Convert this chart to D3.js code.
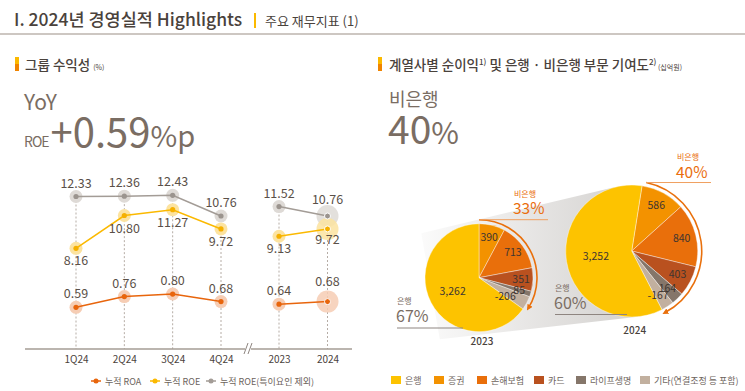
<!DOCTYPE html>
<meta charset="utf-8">
<script src="https://d3js.org/d3.v7.min.js"></script>
<style>
  body { margin: 0; background: #fff; }
  svg { font-family: "Noto Sans CJK KR", "Noto Sans", sans-serif; }
</style>
<div id="chart"></div>
<script>
  // ---- data ----
  const quarters = ["1Q24", "2Q24", "3Q24", "4Q24"];
  const years = ["2023", "2024"];
  const roaQ = [0.59, 0.76, 0.80, 0.68];
  const roeQ = [8.16, 10.80, 11.27, 9.72];
  const roeExQ = [12.33, 12.36, 12.43, 10.76];
  const roaY = [0.64, 0.68];
  const roeY = [9.13, 9.72];
  const roeExY = [11.52, 10.76];
  const lineNames = ["누적 ROA", "누적 ROE", "누적 ROE(특이요인 제외)"];

  const companies = ["은행", "증권", "손해보험", "카드", "라이프생명", "기타(연결조정 등 포함)"];
  const profit2023 = [3262, 390, 713, 351, 85, -206];
  const profit2024 = [3252, 586, 840, 403, 164, -167];
  const bankShare = ["67%", "60%"];
  const nonBankShare = ["33%", "40%"];

  const W = 745, H = 391;
  const textDark = "#4a423c", textMid = "#7a6d63", labelCol = "#5a5048";

  const svg = d3.select("#chart").append("svg")
    .attr("width", W).attr("height", H);

  const defs = svg.append("defs");

  // ---- page header ----
  svg.append("text").attr("x", 14).attr("y", 26)
    .style("font-size", "17.5px").style("font-weight", 500).style("fill", textDark)
    .text("I. 2024년 경영실적 Highlights");
  svg.append("rect").attr("x", 254).attr("y", 13).attr("width", 2).attr("height", 15).attr("fill", "#fbb900");
  svg.append("text").attr("x", 265).attr("y", 26)
    .style("font-size", "13px").style("fill", textDark)
    .text("주요 재무지표 (1)");
  svg.append("rect").attr("x", 0).attr("y", 33).attr("width", W).attr("height", 2).attr("fill", "#cdc7c2");

  // section headers
  function sectionMark(x) {
    svg.append("rect").attr("x", x).attr("y", 57).attr("width", 4).attr("height", 7).attr("fill", "#fbb900");
    svg.append("rect").attr("x", x).attr("y", 64).attr("width", 4).attr("height", 7).attr("fill", "#f08400");
  }
  sectionMark(15);
  const h1 = svg.append("text").attr("x", 25).attr("y", 70)
    .style("font-size", "13.5px").style("font-weight", 500).style("fill", textDark);
  h1.append("tspan").text("그룹 수익성 ");
  h1.append("tspan").style("font-size", "7px").style("font-weight", 400).text("(%)");

  sectionMark(378);
  const h2 = svg.append("text").attr("x", 389).attr("y", 70)
    .style("font-size", "13.5px").style("font-weight", 500).style("fill", textDark);
  h2.append("tspan").text("계열사별 순이익");
  h2.append("tspan").attr("dy", -5).style("font-size", "8px").text("1)");
  h2.append("tspan").attr("dy", 5).text(" 및 은행 · 비은행 부문 기여도");
  h2.append("tspan").attr("dy", -5).style("font-size", "8px").text("2)");
  h2.append("tspan").attr("dy", 5).style("font-size", "7px").style("font-weight", 400).text(" (십억원)");

  // big numbers
  svg.append("text").attr("x", 24).attr("y", 110)
    .style("font-size", "21px").style("fill", textMid).text("YoY");
  const big = svg.append("text").attr("x", 24).attr("y", 147).style("fill", textMid);
  big.append("tspan").style("font-size", "14px").style("letter-spacing", "-1px").text("ROE");
  big.append("tspan").attr("dx", 2).style("font-size", "40px").text("+0.59");
  big.append("tspan").style("font-size", "29px").text("%p");

  svg.append("text").attr("x", 389).attr("y", 106)
    .style("font-size", "18px").style("fill", textMid).text("비은행");
  const big2 = svg.append("text").attr("x", 388).attr("y", 144).style("fill", textMid);
  big2.append("tspan").style("font-size", "39px").text("40");
  big2.append("tspan").style("font-size", "30px").text("%");

  // ---- line chart ----
  const xq = d3.scalePoint().domain(quarters).range([76, 221]);
  const xy = d3.scalePoint().domain(years).range([279, 327.5]);
  const yROE = d3.scaleLinear().domain([8, 13]).range([250.3, 188.2]);
  const yROA = d3.scaleLinear().domain([0.5, 0.9]).range([313, 287.7]);
  const axisY = 349;

  const lineG = svg.append("g");

  // dotted guides
  quarters.forEach((q, i) => {
    lineG.append("line").attr("x1", xq(q)).attr("x2", xq(q))
      .attr("y1", yROE(roeExQ[i])).attr("y2", axisY)
      .attr("stroke", "#b5aca5").attr("stroke-width", 1).attr("stroke-dasharray", "2,2");
  });
  years.forEach((yv, i) => {
    lineG.append("line").attr("x1", xy(yv)).attr("x2", xy(yv))
      .attr("y1", yROE(roeExY[i])).attr("y2", axisY)
      .attr("stroke", "#b5aca5").attr("stroke-width", 1).attr("stroke-dasharray", "2,2");
  });

  // axis
  const xAxisQ = d3.axisBottom(xq).tickSize(0).tickPadding(7);
  const xAxisY = d3.axisBottom(xy).tickSize(0).tickPadding(7);
  lineG.append("line").attr("x1", 25).attr("x2", 352).attr("y1", axisY).attr("y2", axisY)
    .attr("stroke", "#a59c95").attr("stroke-width", 1.5);
  [xAxisQ, xAxisY].forEach(ax => {
    const g = lineG.append("g").attr("transform", `translate(0,${axisY})`).call(ax);
    g.select(".domain").remove();
    g.selectAll("text").style("font-size", "10px").style("fill", textDark)
      .style("font-family", "'Noto Sans CJK KR', sans-serif");
  });
  // axis break
  lineG.append("rect").attr("x", 245).attr("y", 345).attr("width", 6).attr("height", 8).attr("fill", "#fff");
  lineG.append("line").attr("x1", 244).attr("y1", 354).attr("x2", 248).attr("y2", 343).attr("stroke", "#8e8580");
  lineG.append("line").attr("x1", 248).attr("y1", 354).attr("x2", 252).attr("y2", 343).attr("stroke", "#8e8580");

  const series = [
    { q: roeExQ, y: roeExY, scale: yROE, line: "#a39c96", halo: "#dedad6", dot: "#9b948e", pos: -1, bigOff: -12 },
    { q: roeQ, y: roeY, scale: yROE, line: "#fbb900", halo: "#fce3a0", dot: "#f5b000", pos: 1, bigOff: 15 },
    { q: roaQ, y: roaY, scale: yROA, line: "#e8650c", halo: "#f6cdb4", dot: "#e8650c", pos: -1, bigOff: -16 }
  ];

  series.forEach(s => {
    const ptsQ = quarters.map((q, i) => ({ x: xq(q), v: s.q[i] }));
    const ptsY = years.map((yv, i) => ({ x: xy(yv), v: s.y[i] }));
    [...ptsQ, ptsY[0]].forEach(p => {
      lineG.append("circle").attr("cx", p.x).attr("cy", s.scale(p.v)).attr("r", 6.5).attr("fill", s.halo);
    });
    lineG.append("circle").attr("cx", ptsY[1].x).attr("cy", s.scale(ptsY[1].v)).attr("r", 11)
      .attr("fill", s.halo).attr("opacity", 0.85);
  });

  series.forEach(s => {
    const lineFn = d3.line().x(d => d.x).y(d => s.scale(d.v));
    const ptsQ = quarters.map((q, i) => ({ x: xq(q), v: s.q[i] }));
    const ptsY = years.map((yv, i) => ({ x: xy(yv), v: s.y[i] }));
    [ptsQ, ptsY].forEach(pts => {
      lineG.append("path").attr("d", lineFn(pts)).attr("fill", "none")
        .attr("stroke", s.line).attr("stroke-width", 1.5);
    });
    ptsQ.concat(ptsY).forEach((p, i) => {
      const last = i === 5;
      lineG.append("circle").attr("cx", p.x).attr("cy", s.scale(p.v)).attr("r", last ? 3 : 2.6)
        .attr("fill", s.dot).attr("stroke", last ? "#fff" : "none").attr("stroke-width", 1);
      const off = last ? s.bigOff : (s.pos < 0 ? -9 : 17);
      lineG.append("text").attr("x", p.x).attr("y", s.scale(p.v) + off)
        .attr("text-anchor", "middle")
        .style("font-size", "12.5px").style("fill", labelCol)
        .text(p.v.toFixed(2));
    });
  });

  // line legend
  const legColors = ["#e8650c", "#fbb900", "#a39c96"];
  const legX = [91, 150, 206];
  lineNames.forEach((n, i) => {
    const g = svg.append("g").attr("transform", `translate(${legX[i]},381)`);
    g.append("line").attr("x1", 0).attr("x2", 10).attr("stroke", legColors[i]).attr("stroke-width", 1.5);
    g.append("circle").attr("cx", 5).attr("r", 2.5).attr("fill", legColors[i]);
    g.append("text").attr("x", 14).attr("y", 3.5).style("font-size", "9px").style("fill", "#6d635c").text(n);
  });

  // ---- pies ----
  const colors = ["#fdc300", "#f39200", "#e96f0b", "#b9511f", "#85766a", "#c2b09f"];
  const color = d3.scaleOrdinal().domain(companies).range(colors);
  const pies = [
    { year: "2023", vals: profit2023, cx: 479, cy: 277.7, r: 54, start: 0, arcR: 58, arcStart: 0, arcEnd: 122,
      lineTo: 548, labX: 514, labY: 213.5, tagY: 197, bankX: 397, bankY: 322, bankLine: 463, yearY: 345,
      etcR: 0.6, etcTurn: 8 },
    { year: "2024", vals: profit2024, cx: 631.7, cy: 251, r: 66, start: 9, arcR: 70, arcStart: 12, arcEnd: 152,
      lineTo: 711, labX: 677, labY: 177.5, tagY: 160, bankX: 555, bankY: 308.5, bankLine: 627, yearY: 334,
      etcR: 0.78, etcTurn: 2 }
  ];

  // shading band between the two pies (external tangent)
  (function () {
    const a = pies[0], b = pies[1];
    const dx = b.cx - a.cx, dy = b.cy - a.cy, d = Math.hypot(dx, dy);
    const ang = Math.atan2(dy, dx), t = Math.acos((a.r - b.r) / d);
    const up = ang - t, lo = ang + t;
    const p = (c, r, th) => [c.cx + r * Math.cos(th), c.cy + r * Math.sin(th)];
    const a1 = p(a, a.r, up), b1 = p(b, b.r, up), a2 = p(a, a.r, lo), b2 = p(b, b.r, lo);
    const ext = 45;
    const ux = Math.cos(ang), uy = Math.sin(ang);
    const poly = [
      [a1[0] - ext * ux, a1[1] - ext * uy], b1, b2, [a2[0] - ext * ux, a2[1] - ext * uy]
    ];
    const grad = defs.append("linearGradient").attr("id", "band")
      .attr("gradientUnits", "userSpaceOnUse").attr("x1", 400).attr("x2", 610).attr("y1", 0).attr("y2", 0);
    grad.append("stop").attr("offset", 0).attr("stop-color", "#d8d6d4").attr("stop-opacity", 0);
    grad.append("stop").attr("offset", 1).attr("stop-color", "#d8d6d4").attr("stop-opacity", 1);
    svg.append("path").attr("d", d3.line()(poly) + "Z").attr("fill", "url(#band)");
  })();

  defs.append("marker").attr("id", "arrow").attr("viewBox", "0 0 10 10")
    .attr("refX", 6).attr("refY", 5).attr("markerWidth", 6).attr("markerHeight", 6)
    .attr("orient", "auto").attr("markerUnits", "userSpaceOnUse")
    .append("path").attr("d", "M0,0L10,5L0,10z").attr("fill", "#e9700c");

  const fmt = v => v.toLocaleString("en-US");
  const rad = deg => deg * Math.PI / 180;

  pies.forEach((p, pi) => {
    const rows = companies.map((c, i) => ({ name: c, v: p.vals[i] }));
    const ordered = rows.slice(1).concat(rows.slice(0, 1));
    const pie = d3.pie().sort(null).value(d => Math.abs(d.v))
      .startAngle(rad(p.start)).endAngle(rad(p.start) + 2 * Math.PI);
    const arcs = pie(ordered);
    const arc = d3.arc().innerRadius(0).outerRadius(p.r);
    const g = svg.append("g").attr("transform", `translate(${p.cx},${p.cy})`);
    g.selectAll("path.slice").data(arcs).join("path").attr("class", "slice")
      .attr("d", arc).attr("fill", d => color(d.data.name))
      .attr("stroke", "#fff").attr("stroke-width", 0.4);
    g.selectAll("text").data(arcs).join("text")
      .attr("transform", d => {
        const n = d.data.name;
        const isEtc = n === companies[5];
        const f = n === "은행" ? 0.55 : (isEtc ? p.etcR : 0.78);
        const lr = p.r * f;
        const mid = (d.startAngle + d.endAngle) / 2 + (isEtc ? rad(p.etcTurn) : 0);
        return `translate(${lr * Math.sin(mid)},${-lr * Math.cos(mid)})`;
      })
      .attr("text-anchor", "middle").attr("dy", "0.35em")
      .style("font-size", "10.5px").style("fill", "#3e3530")
      .text(d => fmt(d.data.v));

    // non-bank arrow
    const a0 = rad(p.arcStart) - Math.PI / 2, a1 = rad(p.arcEnd) - Math.PI / 2;
    const pth = d3.path();
    pth.arc(0, 0, p.arcR, a0, a1, false);
    g.append("path").attr("d", pth.toString()).attr("fill", "none")
      .attr("stroke", "#e9700c").attr("stroke-width", 1.6).attr("marker-end", "url(#arrow)");
    const sx = p.cx + p.arcR * Math.cos(a0), sy = p.cy + p.arcR * Math.sin(a0);
    svg.append("line").attr("x1", sx).attr("y1", sy).attr("x2", p.lineTo).attr("y2", sy)
      .attr("stroke", "#f0a060").attr("stroke-width", 1);
    svg.append("text").attr("x", p.labX).attr("y", p.tagY)
      .style("font-size", "8px").style("fill", "#ea6d0c").text("비은행");
    svg.append("text").attr("x", p.labX - 1).attr("y", p.labY)
      .style("font-size", "15.5px").style("fill", "#ea6d0c").text(nonBankShare[pi]);

    // bank label
    svg.append("text").attr("x", p.bankX).attr("y", p.bankY - 18)
      .style("font-size", "8px").style("fill", textMid).text("은행");
    svg.append("text").attr("x", p.bankX - 1).attr("y", p.bankY)
      .style("font-size", "16px").style("fill", textMid).text(bankShare[pi]);
    svg.append("line").attr("x1", p.bankX).attr("x2", p.bankLine)
      .attr("y1", p.bankY + 6).attr("y2", p.bankY + 6)
      .attr("stroke", "#8e8580").attr("stroke-width", 1);

    svg.append("text").attr("x", p.cx + 3).attr("y", p.yearY).attr("text-anchor", "middle")
      .style("font-size", "10px").style("fill", textDark).style("font-weight", 500).text(p.year);
  });

  // pie legend
  const legPX = [391, 434, 477, 534, 576, 640];
  companies.forEach((c, i) => {
    svg.append("rect").attr("x", legPX[i]).attr("y", 376).attr("width", 10).attr("height", 8)
      .attr("fill", color(c));
    svg.append("text").attr("x", legPX[i] + 14).attr("y", 383.5)
      .style("font-size", "9px").style("fill", "#6d635c").text(c);
  });
</script>
